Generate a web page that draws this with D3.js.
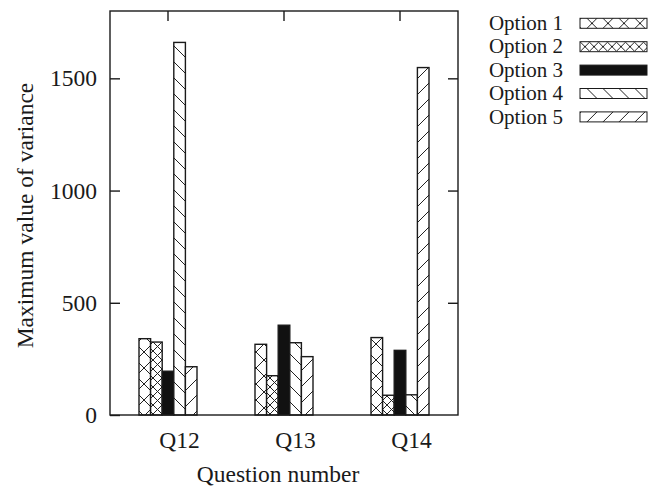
<!DOCTYPE html>
<html>
<head>
<meta charset="utf-8">
<script src="https://cdn.jsdelivr.net/npm/d3@7"></script>
<style>
    body { margin: 0; background: #fff; }
    svg text { font-family: "Liberation Serif", "Times New Roman", serif; fill: #1a1a1a; }
</style>
</head>
<body>
<div id="chart"></div>
<script>

// values
const questions = ['Q12', 'Q13', 'Q14'];
const optionNames = ['Option 1', 'Option 2', 'Option 3', 'Option 4', 'Option 5'];
const option1 = [340, 315, 345];
const option2 = [325, 175, 88];
const option3 = [195, 400, 288];
const option4 = [1660, 322, 90];
const option5 = [215, 260, 1548];
const yTicks = [0, 500, 1000, 1500];


class BarChart {


    constructor(config) {

        this._series = config.series;
        this._names = config.names;
        this._categories = config.categories;

        this._width = 661;
        this._height = 486;

        this._frame = {
            left: 110,
            top: 11,
            right: 458,
            bottom: 415
        };

        this._ink = '#1a1a1a';
        this._fontSize = '23.5px';
    }


    renderTo(selector) {

        var svg = d3.select(selector)
            .append('svg')
            .attr('width', this._width)
            .attr('height', this._height);

        this._defs = svg.append('defs');
        this._makePatterns();

        var x = d3.scaleLinear()
            .domain([-0.5, this._categories.length - 0.5])
            .range([this._frame.left, this._frame.right]);

        var y = d3.scaleLinear()
            .domain([0, 1800])
            .range([this._frame.bottom, this._frame.top]);

        var n = this._series.length;
        var barW = 0.1;

        // bars
        this._series.forEach(function(values, s) {
            svg.append('g')
                .selectAll('rect')
                .data(values)
                .enter()
                .append('rect')
                .attr('x', (d, i) => x(i + (s - n / 2) * barW))
                .attr('y', d => y(d))
                .attr('width', x(barW) - x(0))
                .attr('height', d => y(0) - y(d))
                .attr('fill', this._fill(s))
                .attr('stroke', this._ink)
                .attr('stroke-width', 1.4);
        }, this);

        // frame
        svg.append('rect')
            .attr('x', this._frame.left)
            .attr('y', this._frame.top)
            .attr('width', this._frame.right - this._frame.left)
            .attr('height', this._frame.bottom - this._frame.top)
            .attr('fill', 'none')
            .attr('stroke', this._ink)
            .attr('stroke-width', 1.4);

        // y axis, left and mirrored right
        svg.append('g')
            .attr('transform', 'translate(' + this._frame.left + ',0)')
            .call(d3.axisRight(y).tickValues(yTicks).tickSize(10).tickFormat(''))
            .call(g => g.select('.domain').remove());

        svg.append('g')
            .attr('transform', 'translate(' + this._frame.right + ',0)')
            .call(d3.axisLeft(y).tickValues(yTicks.slice(1)).tickSize(10).tickFormat(''))
            .call(g => g.select('.domain').remove());

        svg.selectAll('.tick line')
            .attr('stroke', this._ink)
            .attr('stroke-width', 1.4);

        svg.append('g')
            .selectAll('text')
            .data(yTicks)
            .enter()
            .append('text')
            .attr('x', 97)
            .attr('y', d => y(d))
            .attr('dy', '0.34em')
            .attr('text-anchor', 'end')
            .style('font-size', this._fontSize)
            .text(d => d);

        // x ticks at the top
        svg.append('g')
            .selectAll('line')
            .data(this._categories)
            .enter()
            .append('line')
            .attr('x1', (d, i) => x(i))
            .attr('x2', (d, i) => x(i))
            .attr('y1', this._frame.top)
            .attr('y2', this._frame.top + 10)
            .attr('stroke', this._ink)
            .attr('stroke-width', 1.4);

        svg.append('g')
            .selectAll('text')
            .data(this._categories)
            .enter()
            .append('text')
            .attr('x', (d, i) => x(i + 0.1))
            .attr('y', 448)
            .attr('text-anchor', 'middle')
            .style('font-size', this._fontSize)
            .text(d => d);

        // titles
        svg.append('text')
            .attr('x', 278)
            .attr('y', 482)
            .attr('text-anchor', 'middle')
            .style('font-size', this._fontSize)
            .text('Question number');

        svg.append('text')
            .attr('transform', 'translate(33,215.5) rotate(-90)')
            .attr('text-anchor', 'middle')
            .style('font-size', this._fontSize)
            .text('Maximum value of variance');

        // legend
        var legend = svg.append('g')
            .selectAll('g')
            .data(this._names)
            .enter()
            .append('g')
            .attr('transform', (d, i) => 'translate(0,' + (23.3 + i * 23.4) + ')');

        legend.append('text')
            .attr('x', 563)
            .attr('dy', '0.32em')
            .attr('text-anchor', 'end')
            .style('font-size', '21px')
            .text(d => d);

        legend.append('rect')
            .attr('x', 580)
            .attr('y', -5)
            .attr('width', 67)
            .attr('height', 10)
            .attr('fill', (d, i) => this._fill(i))
            .attr('stroke', this._ink)
            .attr('stroke-width', 1);

        return this;
    }


    _fill(s) {

        return s === 2 ? '#111' : 'url(#pat' + s + ')';
    }


    _makePatterns() {

        var specs = [
            { size: 16, d: 'M0,0L16,16M0,16L16,0' },
            { size: 9, d: 'M0,0L9,9M0,9L9,0' },
            null,
            { size: 16, d: 'M-4,-4L20,20M12,-4L20,4M-4,12L4,20' },
            { size: 16, d: 'M-4,20L20,-4M-4,4L4,-4M12,20L20,12' }
        ];

        specs.forEach(function(spec, i) {
            if (!spec) return;
            var p = this._defs.append('pattern')
                .attr('id', 'pat' + i)
                .attr('patternUnits', 'userSpaceOnUse')
                .attr('width', spec.size)
                .attr('height', spec.size);
            p.append('rect')
                .attr('width', spec.size)
                .attr('height', spec.size)
                .attr('fill', '#fff');
            p.append('path')
                .attr('d', spec.d)
                .attr('stroke', '#222')
                .attr('stroke-width', 1)
                .attr('fill', 'none');
        }, this);
    }
}


new BarChart({
    series: [option1, option2, option3, option4, option5],
    names: optionNames,
    categories: questions
}).renderTo('#chart');

</script>
</body>
</html>
